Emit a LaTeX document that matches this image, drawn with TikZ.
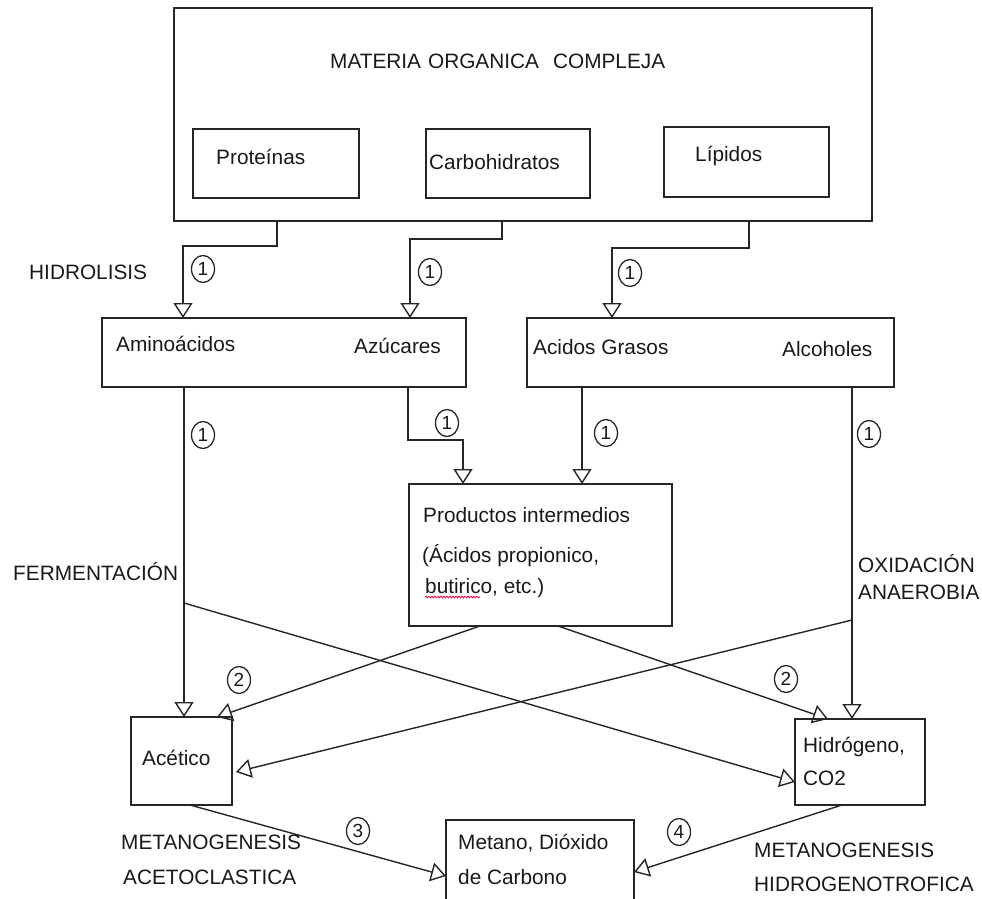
\documentclass[tikz,border=0pt]{standalone}
\usepackage{fontspec}
\setmainfont{Liberation Sans}
\usetikzlibrary{arrows.meta,shapes.geometric,decorations.pathmorphing}
\begin{document}
\begin{tikzpicture}[x=1pt,y=-1pt,
  box/.style={draw=black!85,line width=1.4pt,rectangle,inner sep=0pt,outer sep=0pt},
  txt/.style={anchor=base west,inner sep=0pt,text=black!90,font=\fontsize{20.8}{24}\selectfont},
  num/.style={draw=black!85,ellipse,line width=1.3pt,minimum width=23pt,minimum height=27pt,inner sep=0pt,text=black!90,font=\fontsize{19}{22}\selectfont},
  arr/.style={draw=black!85,line width=1.4pt,-{Triangle[open,length=15pt,width=19pt]}},
  ln/.style={draw=black!85,line width=1.4pt}]
\useasboundingbox (0,0) rectangle (982,899);
% boxes
\node[box,minimum width=698pt,minimum height=213pt] (top) at (523,114.5) {};
\node[box,minimum width=166pt,minimum height=69pt] (prot) at (276,163.5) {};
\node[box,minimum width=164pt,minimum height=69pt] (carb) at (508,163.5) {};
\node[box,minimum width=165pt,minimum height=70pt] (lip) at (746.5,162) {};
\node[box,minimum width=364pt,minimum height=69pt] (amino) at (284,352.5) {};
\node[box,minimum width=367pt,minimum height=69pt] (acidos) at (710.5,352.5) {};
\node[box,minimum width=263pt,minimum height=142pt] (prod) at (540.5,555) {};
\node[box,minimum width=101pt,minimum height=88pt] (acet) at (181.5,761) {};
\node[box,minimum width=130pt,minimum height=86pt] (hidro) at (860,762) {};
\node[box,minimum width=188pt,minimum height=90pt] (metano) at (540,865) {};
% texts
\node[txt] (tmat) at (330,68) {MATERIA\hspace{7pt}ORGANICA\hspace{14pt}COMPLEJA};
\node[txt] (tprot) at (216,164) {Proteínas};
\node[txt] (tcarb) at (429,169) {Carbohidratos};
\node[txt] (tlip) at (695,161) {Lípidos};
\node[txt] (thid) at (29,279) {HIDROLISIS};
\node[txt] (tamino) at (116,351) {Aminoácidos};
\node[txt] (tazu) at (354,353) {Azúcares};
\node[txt] (tacid) at (533,354) {Acidos Grasos};
\node[txt] (talc) at (782,356) {Alcoholes};
\node[txt] (tprod1) at (423,522) {Productos intermedios};
\node[txt] (tprod2) at (422,562) {(Ácidos propionico,};
\node[txt] (tprod3) at (425,593) {butirico, etc.)};
\node[txt] (tferm) at (13,580) {FERMENTACIÓN};
\node[txt] (toxi1) at (858,572) {OXIDACIÓN};
\node[txt] (toxi2) at (858,599) {ANAEROBIA};
\node[txt] (tacet) at (142,765) {Acético};
\node[txt] (thidro1) at (803,752) {Hidrógeno,};
\node[txt] (thidro2) at (803,785) {CO2};
\node[txt] (tmet1) at (458,849) {Metano, Dióxido};
\node[txt] (tmet2) at (458,884) {de Carbono};
\node[txt] (tma1) at (121,849) {METANOGENESIS};
\node[txt] (tma2) at (123,884) {ACETOCLASTICA};
\node[txt] (tmh1) at (754,857) {METANOGENESIS};
\node[txt] (tmh2) at (754,891) {HIDROGENOTROFICA};
% spell-check underline
\draw[red!75!magenta,line width=0.8pt,decorate,decoration={snake,amplitude=0.9pt,segment length=3pt}] (tprod3.base west) ++(0,4) -- ++(55,0);
% step numbers
\node[num] (n1a) at (203,269) {1};
\node[num] (n1b) at (430,272) {1};
\node[num] (n1c) at (630,273) {1};
\node[num] (n1d) at (203,435) {1};
\node[num] (n1e) at (447,423) {1};
\node[num] (n1f) at (606,433) {1};
\node[num] (n1g) at (869,434) {1};
\node[num] (n2a) at (239,680) {2};
\node[num] (n2b) at (786,679) {2};
\node[num] (n3) at (358,831) {3};
\node[num] (n4) at (679,832) {4};
% connectors
\draw[arr] ([xshift=103pt]top.south west) -- ++(0,25) -| ([xshift=81pt]amino.north west);
\draw[arr] ([xshift=328pt]top.south west) -- ++(0,18) -| ([xshift=308pt]amino.north west);
\draw[arr] ([xshift=575pt]top.south west) -- ++(0,27) -| ([xshift=85pt]acidos.north west);
\draw[arr] ([xshift=82pt]amino.south west) -- ([xshift=53pt]acet.north west);
\draw[arr] ([xshift=306pt]amino.south west) -- ++(0,53) -| ([xshift=54pt]prod.north west);
\draw[arr] ([xshift=55pt]acidos.south west) -- ([xshift=55pt]prod.north west -| acidos.south west);
\draw[arr] ([xshift=325pt]acidos.south west) -- ([xshift=57pt]hidro.north west);
\coordinate (f1) at (184,603);
\coordinate (o1) at (852,620);
\draw[arr] (f1) -- ([yshift=23pt]hidro.south west);
\draw[arr] ([xshift=71pt]prod.south west) -- ([xshift=86pt]acet.north west);
\draw[arr] (o1) -- ([xshift=4pt,yshift=33pt]acet.south east);
\draw[arr] ([xshift=149pt]prod.south west) -- ([xshift=33pt]hidro.north west);
\draw[arr] ([xshift=59pt]acet.south west) -- ([yshift=-56pt]metano.north west);
\draw[arr] ([xshift=47pt]hidro.south west) -- ([yshift=-52pt]metano.north east);
\end{tikzpicture}
\end{document}
